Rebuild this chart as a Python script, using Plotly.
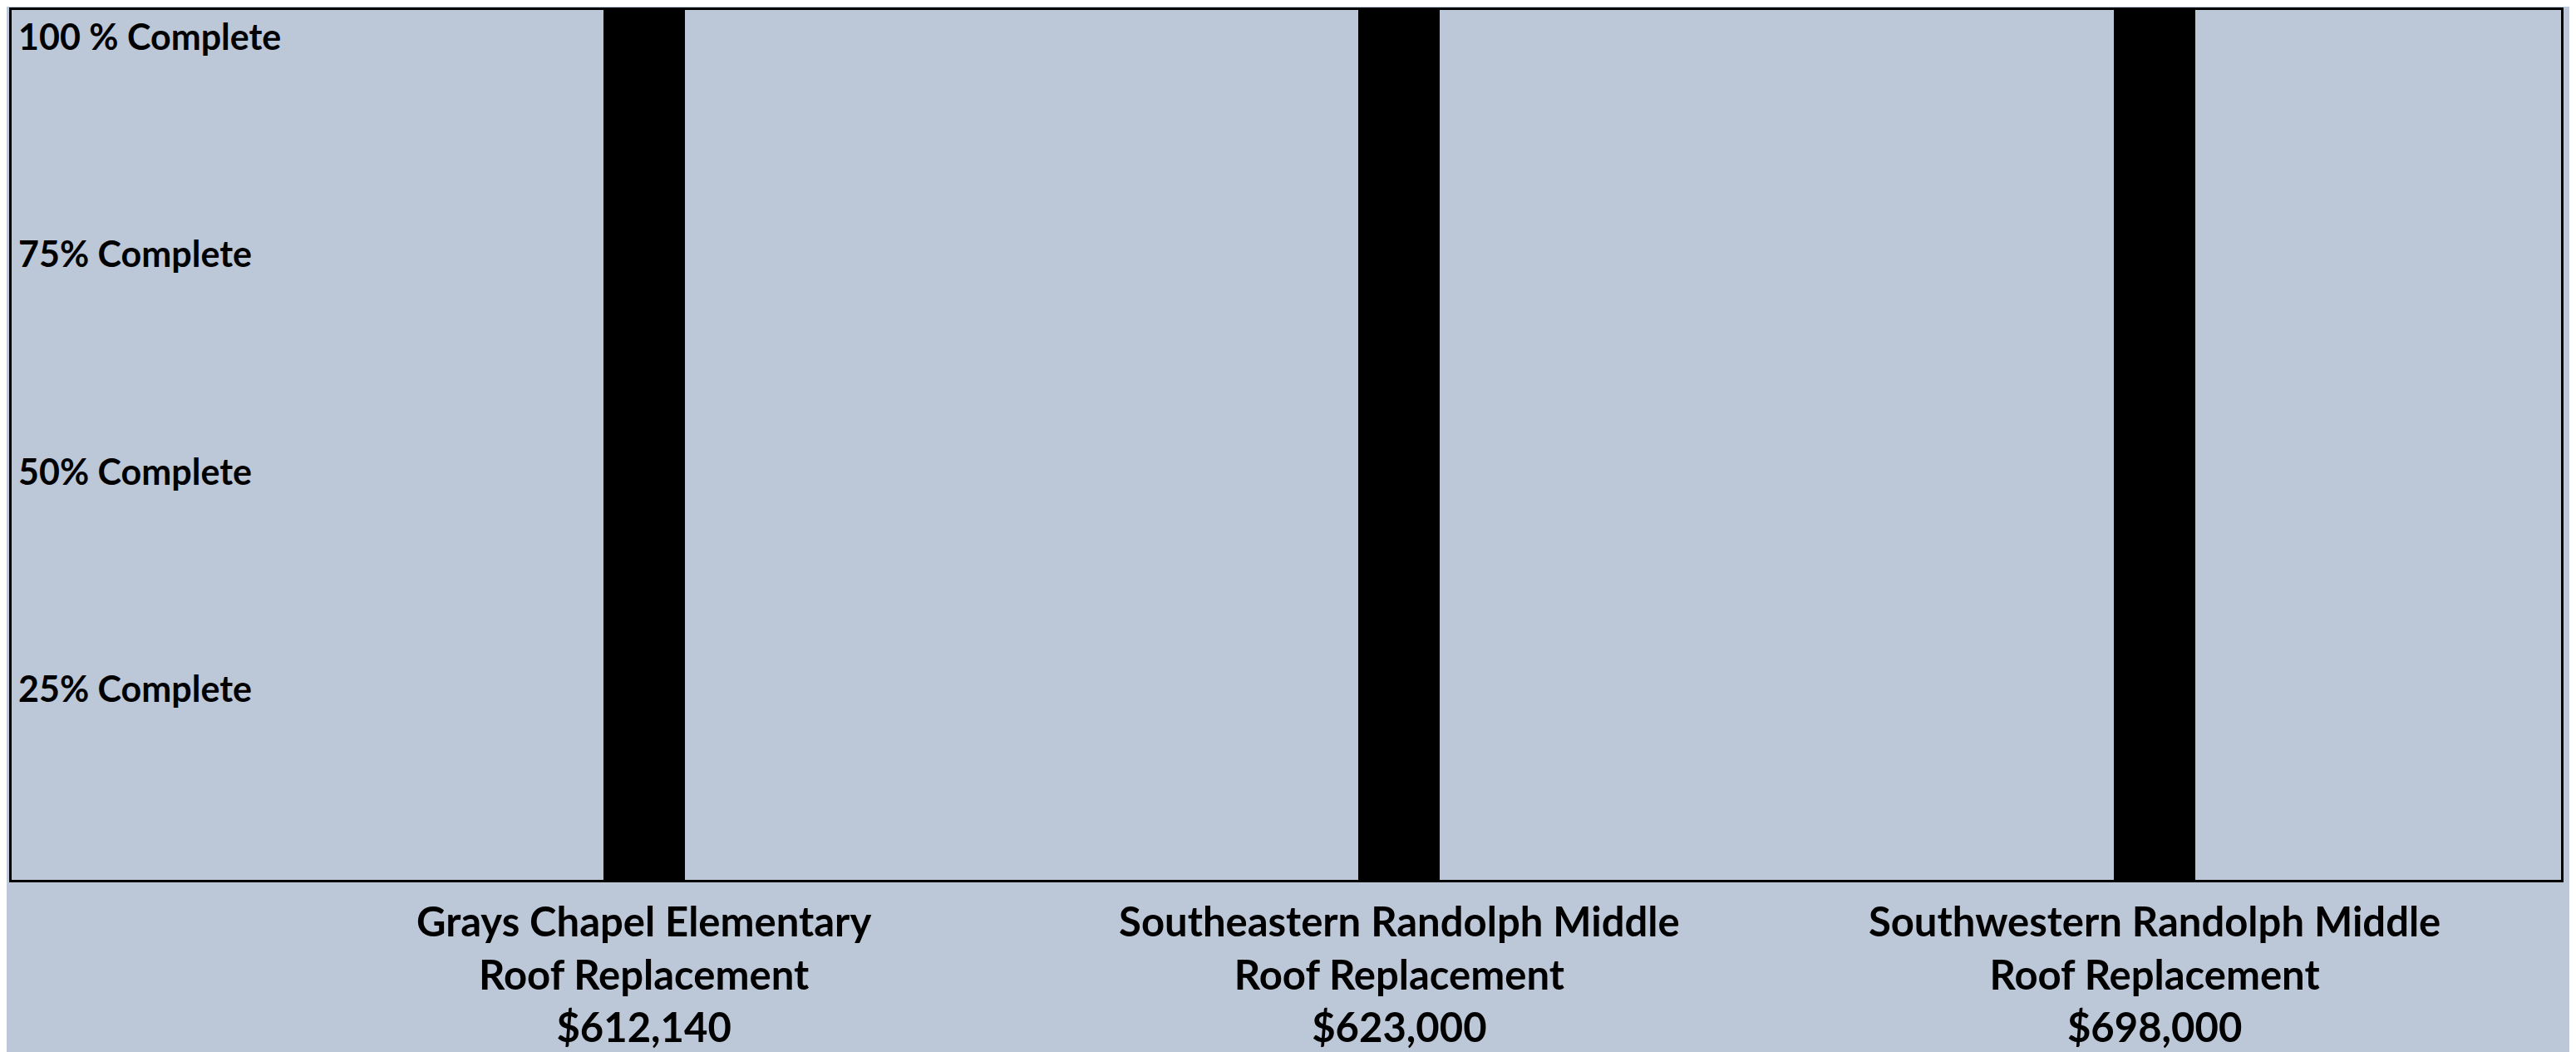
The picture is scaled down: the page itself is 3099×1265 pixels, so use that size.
import plotly.graph_objects as go

schools = ["Grays Chapel Elementary", "Southeastern Randolph Middle", "Southwestern Randolph Middle"]
projects = ["Roof Replacement", "Roof Replacement", "Roof Replacement"]
costs = ["$612,140", "$623,000", "$698,000"]
percent_complete = [100, 100, 100]

level_values = [100, 75, 50, 25]
level_labels = ["100 % Complete", "75% Complete", "50% Complete", "25% Complete"]

BG = "#BCC7D7"
YFONT = dict(family="Lato", size=43, color="black", weight="bold")
XFONT = dict(family="Lato", size=49, color="black", weight="bold")

labels = [f"{s}<br>{p}<br>{c}" for s, p, c in zip(schools, projects, costs)]

fig = go.Figure()
fig.add_trace(go.Bar(
    x=labels,
    y=percent_complete,
    width=0.108,
    marker=dict(color="black", line=dict(width=0)),
    showlegend=False,
))

for v, t in zip(level_values, level_labels):
    fig.add_annotation(
        x=0, xref="paper", xanchor="left", xshift=6,
        y=v, yref="y", yanchor="middle", yshift=-31,
        text=t, showarrow=False, font=YFONT,
    )

fig.update_layout(
    width=3091, height=1257,
    paper_bgcolor=BG, plot_bgcolor=BG,
    margin=dict(l=6, r=18, t=1, b=207),
    font=YFONT,
    bargap=0,
)
fig.update_xaxes(
    range=[-0.837, 2.538],
    showline=True, mirror=True, linecolor="black", linewidth=3,
    showgrid=False, zeroline=False, ticks="",
    tickfont=XFONT, ticklabelstandoff=6,
)
fig.update_yaxes(
    range=[0, 100],
    showline=True, mirror=True, linecolor="black", linewidth=3,
    showgrid=False, zeroline=False, showticklabels=False, ticks="",
)

fig.write_html("out.html")
